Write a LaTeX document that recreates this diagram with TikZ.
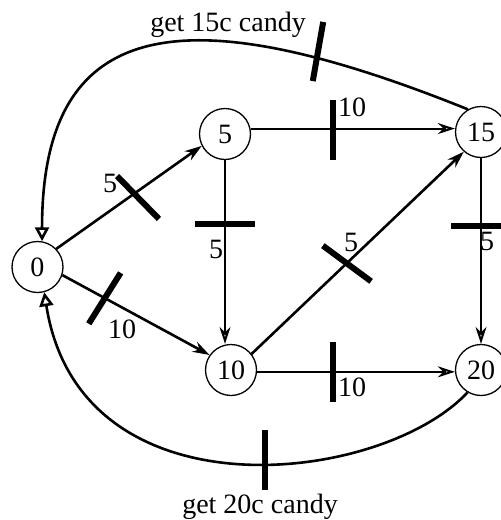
\documentclass[tikz,border=0pt]{standalone}
\usepackage{fontspec}
\setmainfont{Liberation Serif}
\usetikzlibrary{arrows.meta}

\begin{document}
\begin{tikzpicture}[x=1pt, y=-1pt,
    place/.style={draw, circle, line width=1.3pt, minimum size=51pt,
                  inner sep=0pt, font=\fontsize{28}{30}\selectfont},
    bar/.style={fill=black, minimum width=60pt, minimum height=6pt,
                inner sep=0pt},
    lbl/.style={inner sep=0pt, font=\fontsize{28}{30}\selectfont},
    arc/.style={line width=2pt, -{Stealth[open, length=17pt, width=11pt]}},
    loop/.style={line width=2.6pt, -{Triangle[open, length=14pt, width=14pt]}}
]
\useasboundingbox (0,0) rectangle (501,520);

% --- Places ---
\node[place] (p0)  at (37.5, 267) {0};
\node[place] (p5)  at (225, 134)  {5};
\node[place] (p10) at (231, 370)  {10};
\node[place] (p15) at (481, 132)  {15};
\node[place] (p20) at (481, 370)  {20};

% --- Transitions ---
\node[bar, rotate=-45.7] (t1) at (138, 197.5) {};
\node[bar, rotate=57.9]  (t2) at (104.7, 298.3) {};
\node[bar]               (t3) at (225, 224) {};
\node[bar, rotate=90]    (t4) at (332.5, 129.5) {};
\node[bar, rotate=-36.5] (t5) at (347, 263.5) {};
\node[bar]               (t6) at (481, 226) {};
\node[bar, rotate=90]    (t7) at (332.7, 372) {};
\node[bar, rotate=80]    (t8) at (318, 51.5) {};
\node[bar, rotate=90]    (t9) at (265, 460) {};

% --- Labels ---
\node[lbl] (l1) at (110, 183) {5};
\node[lbl] (l2) at (122, 329) {10};
\node[lbl] (l3) at (216, 249) {5};
\node[lbl] (l4) at (352, 107) {10};
\node[lbl] (l5) at (351, 242) {5};
\node[lbl] (l6) at (487, 241) {5};
\node[lbl] (l7) at (352, 387) {10};
\node[lbl] (get15) at (228, 24.5) {get 15c candy};
\node[lbl] (get20) at (260, 507) {get 20c candy};

% --- Arcs ---
\draw[arc, line width=2.6pt] (p0.44) -- (p5.207);
\draw[arc, line width=2.6pt] (p0.-18) -- (p10.145);
\draw[arc] (p5.12) -- (p5.12 -| p15.west);
\draw[arc] (p5.south) -- (p5.south |- p10.north);
\draw[arc, line width=2.6pt] (p10.38) -- (p15.229);
\draw[arc] (p10.-4) -- (p10.-4 -| p20.west);
\draw[arc] (p15.south) -- (p20.north);

% --- Return loops ---
\draw[loop] (p15.120) .. controls (190, -2.5) and (42, 11) .. (p0.80);
\draw[loop] (p20.239) .. controls (381, 485) and (80, 520) .. (p0.-75);

\end{tikzpicture}
\end{document}
